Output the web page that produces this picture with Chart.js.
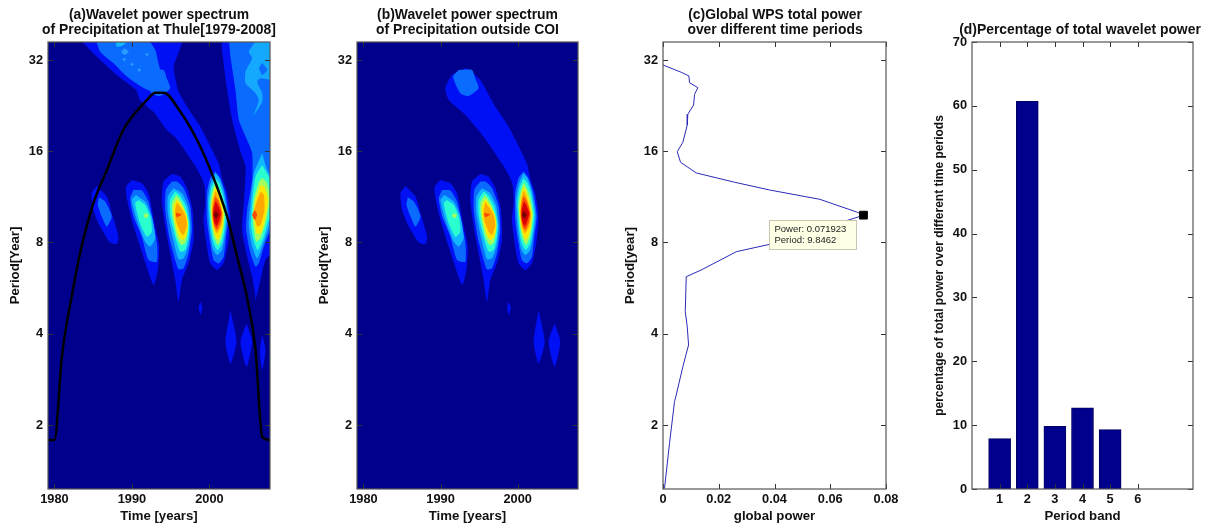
<!DOCTYPE html>
<html><head><meta charset="utf-8">
<script src="https://cdn.jsdelivr.net/npm/chart.js@4/dist/chart.umd.min.js"></script>
<style>
html,body{margin:0;padding:0;background:#fff;width:1217px;height:529px;overflow:hidden}
canvas{position:absolute;top:0}
</style></head><body>
<canvas id="pa"></canvas><canvas id="pb"></canvas><canvas id="pc"></canvas><canvas id="pd"></canvas>
<script>
// ---- tick values (period axes hold log2 of the period in years)
const periodTicks = [1,2,3,4,5];
const periodLabels = ['2','4','8','16','32'];
const timeTicks = [1980,1990,2000];
const powerTicks = [0,0.02,0.04,0.06,0.08];
const bandTicks = [1,2,3,4,5,6];
const percentTicks = [0,10,20,30,40,50,60,70];
// ---- panel d
const bandValues = [7.9,60.7,9.8,12.7,9.3,0];
// ---- panel c: [power, log2 period]
const globalPower = [[0,4.945],[.00654,4.865],[.00928,4.825],[.00953,4.751],[.01251,4.696],[.01133,4.624],[.01097,4.507],[.00892,4.405],[.0087,4.288],[.00712,4.098],[.00511,3.995],[.00629,3.879],[.01194,3.762],[.02571,3.66],[.03829,3.575],[.05627,3.473],[.06947,3.334],[.071923,3.2995],[.06885,3.268],[.03829,2.98],[.02632,2.899],[.01373,2.699],[.00834,2.625],[.00798,2.242],[.0087,2.077],[.00917,1.877],[.00712,1.639],[.00475,1.329],[.00413,1.256],[.00234,.799],[.00054,.306]];
const peakPoint = [[.071923,3.2995]];
const peakText = ['Power: 0.071923','Period: 9.8462'];
// ---- cone of influence: [year, log2 period]
const coneLine = [[1979.18,.836],[1980,.836],[1980.96,1.749],[1982.38,2.479],[1983.32,2.885],[1985.04,3.433],[1986.77,3.795],[1988.88,4.233],[1991.95,4.562],[1993.02,4.642],[1994.09,4.642],[1996.25,4.433],[1998.41,4.123],[2000.13,3.795],[2002.29,3.283],[2003.58,2.844],[2004.87,2.392],[2005.95,1.822],[2006.81,.872],[2007.8,.836]];
// ---- contour outlines: [year, log2 period]
const blobA1 = [[1985.46,3.62],[1984.81,3.54],[1985.03,3.357],[1985.89,3.174],[1987.18,2.999],[1988.05,2.984],[1988.26,3.064],[1987.4,3.32],[1986.75,3.503]];
const blobA2 = [[1985.76,3.495],[1985.59,3.411],[1986.11,3.284],[1986.75,3.174],[1987.4,3.284],[1986.54,3.448]];
const blobB1 = [[1989.99,3.685],[1989.25,3.612],[1989.34,3.484],[1989.99,3.247],[1991.06,2.955],[1992.79,2.535],[1993.35,2.7],[1993.52,2.955],[1993,3.174],[1992.14,3.539],[1991.28,3.649]];
const blobB2 = [[1990.2,3.576],[1989.77,3.484],[1990.2,3.284],[1991.28,3.064],[1992.14,2.809],[1993.22,2.79],[1993.22,2.991],[1992.79,3.192],[1992.14,3.448],[1991.28,3.569]];
const blobB3 = [[1990.5,3.521],[1989.99,3.466],[1990.63,3.247],[1991.71,3.01],[1992.36,2.955],[1993,3.046],[1992.57,3.284],[1991.71,3.448]];
const blobB4 = [[1990.85,3.466],[1990.42,3.43],[1991.06,3.21],[1991.92,3.064],[1992.57,3.119],[1992.36,3.284],[1991.71,3.411]];
const blobB5 = [[1991.71,3.32],[1992.14,3.302],[1991.8,3.265],[1991.49,3.295]];
const blobC1 = [[1995.16,3.751],[1994.08,3.667],[1993.86,3.466],[1994.3,3.174],[1994.94,2.882],[1995.59,2.59],[1996.02,2.35],[1996.45,2.59],[1997.31,2.772],[1997.96,3.028],[1997.83,3.357],[1997.1,3.594],[1996.23,3.722]];
const blobC2 = [[1995.16,3.667],[1994.38,3.576],[1994.3,3.357],[1994.81,3.064],[1995.59,2.809],[1996.02,2.706],[1996.67,2.717],[1997.31,2.882],[1997.74,3.137],[1997.53,3.393],[1996.67,3.594],[1995.8,3.667]];
const blobC3 = [[1995.37,3.594],[1994.64,3.503],[1994.64,3.32],[1995.24,3.064],[1996.02,2.816],[1996.67,2.827],[1997.31,2.973],[1997.53,3.174],[1997.23,3.393],[1996.45,3.539]];
const blobC4 = [[1995.59,3.558],[1994.94,3.466],[1994.94,3.302],[1995.59,3.064],[1996.23,2.9],[1996.88,2.918],[1997.31,3.064],[1997.4,3.21],[1996.97,3.393],[1996.23,3.51]];
const blobC5 = [[1995.72,3.521],[1995.16,3.43],[1995.24,3.284],[1995.8,3.064],[1996.36,2.973],[1996.88,2.991],[1997.23,3.137],[1997.23,3.247],[1996.67,3.393],[1996.1,3.484]];
const blobC6 = [[1995.8,3.474],[1995.37,3.393],[1995.46,3.265],[1995.93,3.101],[1996.45,3.028],[1996.97,3.064],[1997.23,3.192],[1996.97,3.32],[1996.36,3.411]];
const blobC7 = [[1995.8,3.441],[1995.59,3.357],[1995.67,3.247],[1996.23,3.119],[1996.67,3.083],[1997.1,3.192],[1996.88,3.302],[1996.23,3.393]];
const blobC8 = [[1995.67,3.327],[1996.45,3.309],[1995.8,3.276],[1995.67,3.302]];
const streakD1 = [[1993.34,4.909],[1991.49,4.836],[1990.62,4.69],[1991.06,4.562],[1993,4.416],[1995.58,4.16],[1997.95,3.868],[1999.03,3.707],[1999.38,3.612],[1999.47,3.43],[1999.25,3.247],[1999.68,2.955],[2000.11,2.772],[2000.98,2.699],[2001.84,2.772],[2002.4,2.991],[2002.7,3.284],[2002.27,3.539],[2001.62,3.704],[2001.18,3.868],[1998.81,4.27],[1997.09,4.489],[1995.15,4.781]];
const streakTop2 = [[1992.35,4.891],[1991.62,4.818],[1992.56,4.635],[1993.64,4.606],[1994.93,4.69],[1994.5,4.8],[1994.07,4.891]];
const blobD2 = [[2000.76,3.777],[2000.11,3.704],[1999.68,3.539],[1999.68,3.247],[2000.11,2.991],[2000.54,2.809],[2001.19,2.772],[2001.84,2.845],[2002.14,3.064],[2002.48,3.284],[2002.05,3.539],[2001.41,3.704]];
const blobD3 = [[2000.76,3.758],[2000.11,3.631],[1999.81,3.466],[1999.98,3.174],[2000.42,2.937],[2000.98,2.863],[2001.62,2.918],[2002.05,3.101],[2002.31,3.302],[2001.84,3.558],[2001.28,3.704]];
const blobD4 = [[2000.76,3.704],[2000.24,3.594],[1999.98,3.43],[2000.16,3.174],[2000.54,2.991],[2001.06,2.918],[2001.62,2.991],[2001.97,3.156],[2002.14,3.32],[2001.71,3.539],[2001.28,3.649]];
const blobD5 = [[2000.76,3.656],[2000.33,3.539],[2000.11,3.393],[2000.33,3.174],[2000.67,3.035],[2001.1,2.973],[2001.54,3.046],[2001.84,3.174],[2001.97,3.32],[2001.54,3.521],[2001.1,3.612]];
const blobD6 = [[2000.76,3.612],[2000.42,3.503],[2000.24,3.357],[2000.42,3.174],[2000.76,3.072],[2001.1,3.028],[2001.45,3.083],[2001.75,3.192],[2001.84,3.32],[2001.41,3.484],[2001.02,3.576]];
const blobD7 = [[2000.76,3.568],[2000.46,3.466],[2000.33,3.32],[2000.55,3.174],[2000.89,3.101],[2001.28,3.137],[2001.62,3.21],[2001.71,3.32],[2001.28,3.466],[2000.98,3.539]];
const blobD8 = [[2000.76,3.51],[2000.46,3.393],[2000.42,3.284],[2000.67,3.174],[2000.98,3.137],[2001.41,3.21],[2001.62,3.32],[2001.19,3.448]];
const blobD9 = [[2000.8,3.448],[2000.5,3.338],[2000.59,3.229],[2000.93,3.181],[2001.28,3.247],[2001.49,3.32],[2001.1,3.411]];
const blobD10 = [[2000.85,3.349],[2000.54,3.305],[2000.85,3.262],[2001.19,3.305]];
const smallS1 = [[2002.72,2.26],[2002.07,1.913],[2002.72,1.675],[2003.5,1.913]];
const smallS2 = [[2004.79,2.114],[2004.01,1.913],[2004.79,1.639],[2005.52,1.913]];
const smallS3 = [[2006.81,1.986],[2006.51,1.821],[2006.81,1.602],[2007.24,1.821]];
const smallS4 = [[1998.84,2.351],[1998.62,2.289],[1998.84,2.205],[1999.1,2.289]];
const upperLeft1 = [[1983,5.25],[1985.48,5.036],[1988.07,4.835],[1991.08,4.634],[1992.38,4.488],[1994.53,4.232],[1997.12,4.05],[1999.27,3.867],[1999.6,3.7],[2001.4,3.7],[2000.56,3.867],[1998.84,4.123],[1996.9,4.415],[1996.25,4.561],[1995.82,4.707],[1995.39,4.926],[1996.4,5.25]];
const upperLeft2 = [[1985.26,5.25],[1985.91,5.091],[1987.63,4.963],[1989.14,4.835],[1990.87,4.726],[1992.59,4.653],[1994.31,4.671],[1994.53,4.762],[1993.67,4.89],[1993.24,5.036],[1993.02,5.109],[1991.73,5.25]];
const upperLeft3 = [[1987.85,5.25],[1988.06,5.146],[1988.93,5.164],[1989.79,5.25]];
const upperDot1 = [[1989.06,5.128],[1988.62,5.091],[1989.06,5.055],[1989.57,5.091]];
const upperDot2 = [[1989.01,5.025],[1988.79,5.007],[1989.01,4.989],[1989.23,5.007]];
const upperDot3 = [[1990,4.97],[1989.78,4.952],[1990,4.934],[1990.22,4.952]];
const upperDot4 = [[1990.95,4.908],[1990.73,4.89],[1990.95,4.872],[1991.17,4.89]];
const upperDot5 = [[1991.94,5.08],[1991.72,5.062],[1991.94,5.044],[1992.16,5.062]];
const blobE1 = [[2001.5,5.25],[2001.73,5.036],[2002.29,4.671],[2002.94,4.342],[2004,4],[2004.66,3.83],[2004.44,3.43],[2004.22,3.137],[2004.87,2.845],[2005.52,2.626],[2005.95,2.389],[2005.85,2.33],[2006.6,2.59],[2007.24,2.809],[2009,3],[2009,5.25]];
const blobE2 = [[2002.5,5.25],[2002.72,5.036],[2003.37,4.671],[2003.8,4.342],[2004.87,4.123],[2005.52,3.977],[2005.52,3.685],[2004.87,3.357],[2004.74,3.137],[2005.3,2.882],[2005.95,2.736],[2006.38,2.772],[2007.03,2.955],[2008.1,3.174],[2009,3.2],[2009,5.25]];
const blobE3 = [[2006.81,3.977],[2005.74,3.757],[2005.3,3.43],[2005.08,3.174],[2005.52,2.955],[2006.16,2.827],[2006.81,2.955],[2007.67,3.174],[2008.1,3.43],[2009,3.43],[2009,3.8],[2007.68,3.757]];
const blobE4 = [[2006.81,3.849],[2005.95,3.72],[2005.52,3.43],[2005.39,3.174],[2005.82,2.991],[2006.25,2.918],[2007.03,3.064],[2007.67,3.247],[2009,3.4],[2009,3.5],[2007.68,3.72]];
const blobE5 = [[2006.38,3.667],[2005.73,3.466],[2005.6,3.247],[2006.04,3.01],[2006.6,3.046],[2007.24,3.21],[2007.8,3.466],[2007.46,3.649],[2006.81,3.704]];
const blobE6 = [[2006.6,3.631],[2005.95,3.466],[2005.73,3.32],[2006.08,3.101],[2006.6,3.101],[2007.16,3.247],[2007.58,3.466],[2007.11,3.612]];
const blobE7 = [[2006.6,3.558],[2006.04,3.43],[2005.73,3.32],[2006.16,3.174],[2006.6,3.192],[2007.11,3.357],[2007.03,3.521]];
const blobE8 = [[2005.86,3.357],[2005.52,3.305],[2005.86,3.247],[2006.16,3.305]];
const upperRight3 = [[2006.38,5.25],[2005.09,5.091],[2005.52,5.018],[2004.66,4.872],[2004.66,4.744],[2005.95,4.635],[2006.38,4.561],[2005.74,4.397],[2006.81,4.543],[2006.81,4.635],[2006.17,4.762],[2006.6,4.799],[2009,4.78],[2009,5.25]];
const upperRightHole = [[2006.38,4.909],[2006.81,4.963],[2007.46,4.89],[2006.81,4.835]];
// ---- colours
const navy='#00008c', lv=['#0010f5','#0a6cff','#12b8ff','#2affd0','#9fff60','#ffe800','#ffa800','#ff4a00','#d80000','#7a0000'];
const dotColor='#2a9cff', upperLight='#14a8ff';
const family='"Liberation Sans",Arial,sans-serif';
const tickFont={family,weight:'bold',size:12.8};
const titleFont={family,weight:'bold',size:13.9,lineHeight:15/13.9};
const labelFont={family,weight:'bold',size:13.2};
const frameColor='#555', tickColor='#333', lineBlue='#2a2ab8', barFill='#00008c', barEdge='#000060';

// contour sets, bottom to top
const sharedContours = [
 [blobA1,lv[0]],[blobA2,lv[1]],
 [blobB1,lv[0]],[blobB2,lv[1]],[blobB3,lv[2]],[blobB4,lv[3]],[blobB5,lv[4]],
 [blobC1,lv[0]],[blobC2,lv[1]],[blobC3,lv[2]],[blobC4,lv[3]],[blobC5,lv[4]],[blobC6,lv[5]],[blobC7,lv[6]],[blobC8,lv[7]],
 [streakD1,lv[0]],[streakTop2,lv[1]],
 [blobD2,lv[1]],[blobD3,lv[2]],[blobD4,lv[3]],[blobD5,lv[4]],[blobD6,lv[5]],[blobD7,lv[6]],[blobD8,lv[7]],[blobD9,lv[8]],[blobD10,lv[9]],
 [smallS1,lv[0]],[smallS2,lv[0]],[smallS4,lv[0]]
];
const upperLeftBase = [[upperLeft1,lv[0]]];
const upperLeftContours = [
 [upperLeft2,lv[1]],[upperLeft3,lv[2]],
 [upperDot1,dotColor],[upperDot2,dotColor],[upperDot3,dotColor],[upperDot4,dotColor],[upperDot5,dotColor]
];
const rightContours = [
 [blobE1,lv[0]],[blobE2,lv[1]],[upperRight3,upperLight],[upperRightHole,lv[1]],
 [blobE3,lv[2]],[blobE4,lv[3]],[blobE5,lv[4]],[blobE6,lv[5]],[blobE7,lv[6]],[blobE8,lv[7]],[smallS3,lv[0]]
];
const toXY = a => a.map(p=>({x:p[0],y:p[1]}));
function contourSets(list){
  return list.map(([poly,color])=>({data:toXY(poly.concat([poly[0]])),backgroundColor:color,borderWidth:0,fill:'shape',showLine:true,pointRadius:0,tension:.2}));
}
// inward ticks and box frame drawn from the scales
const framePlugin = {id:'frame',
 beforeDraw(c,a,o){ if(o.bg){const r=c.chartArea,x=c.ctx;x.save();x.fillStyle=o.bg;x.fillRect(r.left,r.top,r.width,r.height);x.restore();}},
 afterDraw(c){
  const r=c.chartArea,x=c.ctx,L=5; x.save();
  x.lineWidth=1;x.strokeStyle=tickColor;x.beginPath();
  c.scales.x.ticks.forEach(t=>{const p=Math.round(c.scales.x.getPixelForValue(t.value))+.5;x.moveTo(p,r.bottom);x.lineTo(p,r.bottom-L);x.moveTo(p,r.top);x.lineTo(p,r.top+L);});
  c.scales.y.ticks.forEach(t=>{const p=Math.round(c.scales.y.getPixelForValue(t.value))+.5;x.moveTo(r.left,p);x.lineTo(r.left+L,p);x.moveTo(r.right,p);x.lineTo(r.right-L,p);});
  x.stroke();
  x.strokeStyle=frameColor;x.lineWidth=1.2;x.strokeRect(r.left,r.top,r.width,r.height);
  x.restore();
 }};
// data-tip next to the peak marker
const tipPlugin = {id:'tip',afterDatasetsDraw(c,a,o){
  if(!o.lines) return;
  const x=c.ctx,px=c.scales.x.getPixelForValue(o.at[0]),py=c.scales.y.getPixelForValue(o.at[1]);
  const bx=Math.round(px)-93.5,by=Math.round(py)+5.5;
  x.save();x.fillStyle='#ffffe6';x.strokeStyle='#c8c8b0';x.lineWidth=1;
  x.fillRect(bx,by,87,29);x.strokeRect(bx,by,87,29);
  x.fillStyle='#222';x.font='9.5px "Liberation Sans",Arial,sans-serif';x.textBaseline='middle';
  o.lines.forEach((s,i)=>x.fillText(s,bx+5,by+9+i*11));
  x.restore();
}};
function build(id,cfg){
  const el=document.getElementById(id);
  el.style.left=cfg.left+'px';el.width=cfg.width;el.height=529;
  new Chart(el,{type:cfg.type,data:{labels:cfg.labels,datasets:cfg.datasets},plugins:[framePlugin,tipPlugin],options:{
    responsive:false,animation:false,events:[],
    plugins:{legend:{display:false},tooltip:{enabled:false},
      title:{display:true,text:cfg.title,color:'#111',font:titleFont,padding:{top:cfg.titleTop,bottom:4.5}},
      frame:{bg:cfg.bg},tip:cfg.tip||{}},
    scales:{
      x:{type:'linear',offset:false,min:cfg.xr[0],max:cfg.xr[1],grid:{display:false,drawTicks:false},border:{display:false},
         afterBuildTicks:s=>{s.ticks=cfg.xt.map(v=>({value:v}));},
         afterFit:s=>{s.height=40;},
         ticks:{autoSkip:false,maxRotation:0,color:'#111',font:tickFont,padding:3,callback:cfg.xf||(v=>String(v))},
         title:{display:true,text:cfg.xTitle,color:'#111',font:labelFont,padding:{top:0,bottom:5}}},
      y:{type:'linear',min:cfg.yr[0],max:cfg.yr[1],grid:{display:false,drawTicks:false},border:{display:false},
         afterBuildTicks:s=>{s.ticks=cfg.yt.map(v=>({value:v}));},
         afterFit:s=>{s.width=cfg.axisW;},
         ticks:{autoSkip:false,color:'#111',font:tickFont,padding:5,callback:cfg.yf||(v=>String(v))},
         title:{display:true,text:cfg.yTitle,color:'#111',font:cfg.yFont||labelFont,padding:{top:7,bottom:0}}},
      // empty right-hand axis: reserves the margin so the title stays centred on the canvas
      yRight:{type:'linear',position:'right',min:0,max:1,grid:{display:false,drawTicks:false},border:{display:false},ticks:{display:false},
         afterFit:s=>{s.width=cfg.rightPad;}}
    }}});
}
const timeRange=[1979.17,2007.82], periodRange=[.2986,5.197];
const periodFmt=v=>periodLabels[periodTicks.indexOf(v)];
const coneSet={data:toXY(coneLine),borderColor:'#000',borderWidth:2.5,showLine:true,pointRadius:0,fill:false,cubicInterpolationMode:'monotone'};
build('pa',{type:'scatter',left:0,width:318,axisW:48,rightPad:48,titleTop:7.5,bg:navy,
  title:['(a)Wavelet power spectrum','of Precipitation at Thule[1979-2008]'],
  datasets:[coneSet].concat(contourSets(upperLeftBase.concat(rightContours,sharedContours,upperLeftContours)).reverse()),
  xr:timeRange,yr:periodRange,xt:timeTicks,yt:periodTicks,yf:periodFmt,xTitle:'Time [years]',yTitle:'Period[Year]'});
build('pb',{type:'scatter',left:309,width:317,axisW:48,rightPad:48,titleTop:7.5,bg:navy,
  title:['(b)Wavelet power spectrum','of Precipitation outside COI'],
  datasets:contourSets(sharedContours).reverse(),
  xr:timeRange,yr:periodRange,xt:timeTicks,yt:periodTicks,yf:periodFmt,xTitle:'Time [years]',yTitle:'Period[Year]'});
build('pc',{type:'scatter',left:615,width:320,axisW:48,rightPad:49,titleTop:7.5,
  title:['(c)Global WPS total power','over different time periods'],
  tip:{lines:peakText,at:peakPoint[0]},
  datasets:[
   {data:toXY(peakPoint),pointStyle:'rect',pointRadius:5.5,backgroundColor:'#000',borderColor:'#000',showLine:false},
   {data:toXY(globalPower),borderColor:lineBlue,borderWidth:1,showLine:true,pointRadius:0,fill:false,tension:0}],
  xr:[0,.08],yr:periodRange,xt:powerTicks,yt:periodTicks,yf:periodFmt,xf:v=>String(v),xTitle:'global power',yTitle:'Period[year]'});
build('pd',{type:'bar',left:925,width:310,axisW:47,rightPad:42,titleTop:22.5,
  title:['(d)Percentage of total wavelet power'],
  labels:bandTicks,
  datasets:[{data:bandValues.map((v,i)=>({x:bandTicks[i],y:v})),backgroundColor:barFill,borderColor:barEdge,borderWidth:1,barThickness:22}],
  xr:[0,8],yr:[0,70],xt:bandTicks,yt:percentTicks,xTitle:'Period band',yFont:{family,weight:'bold',size:12},
  yTitle:'percentage of total power over different time periods'});
</script></body></html>
